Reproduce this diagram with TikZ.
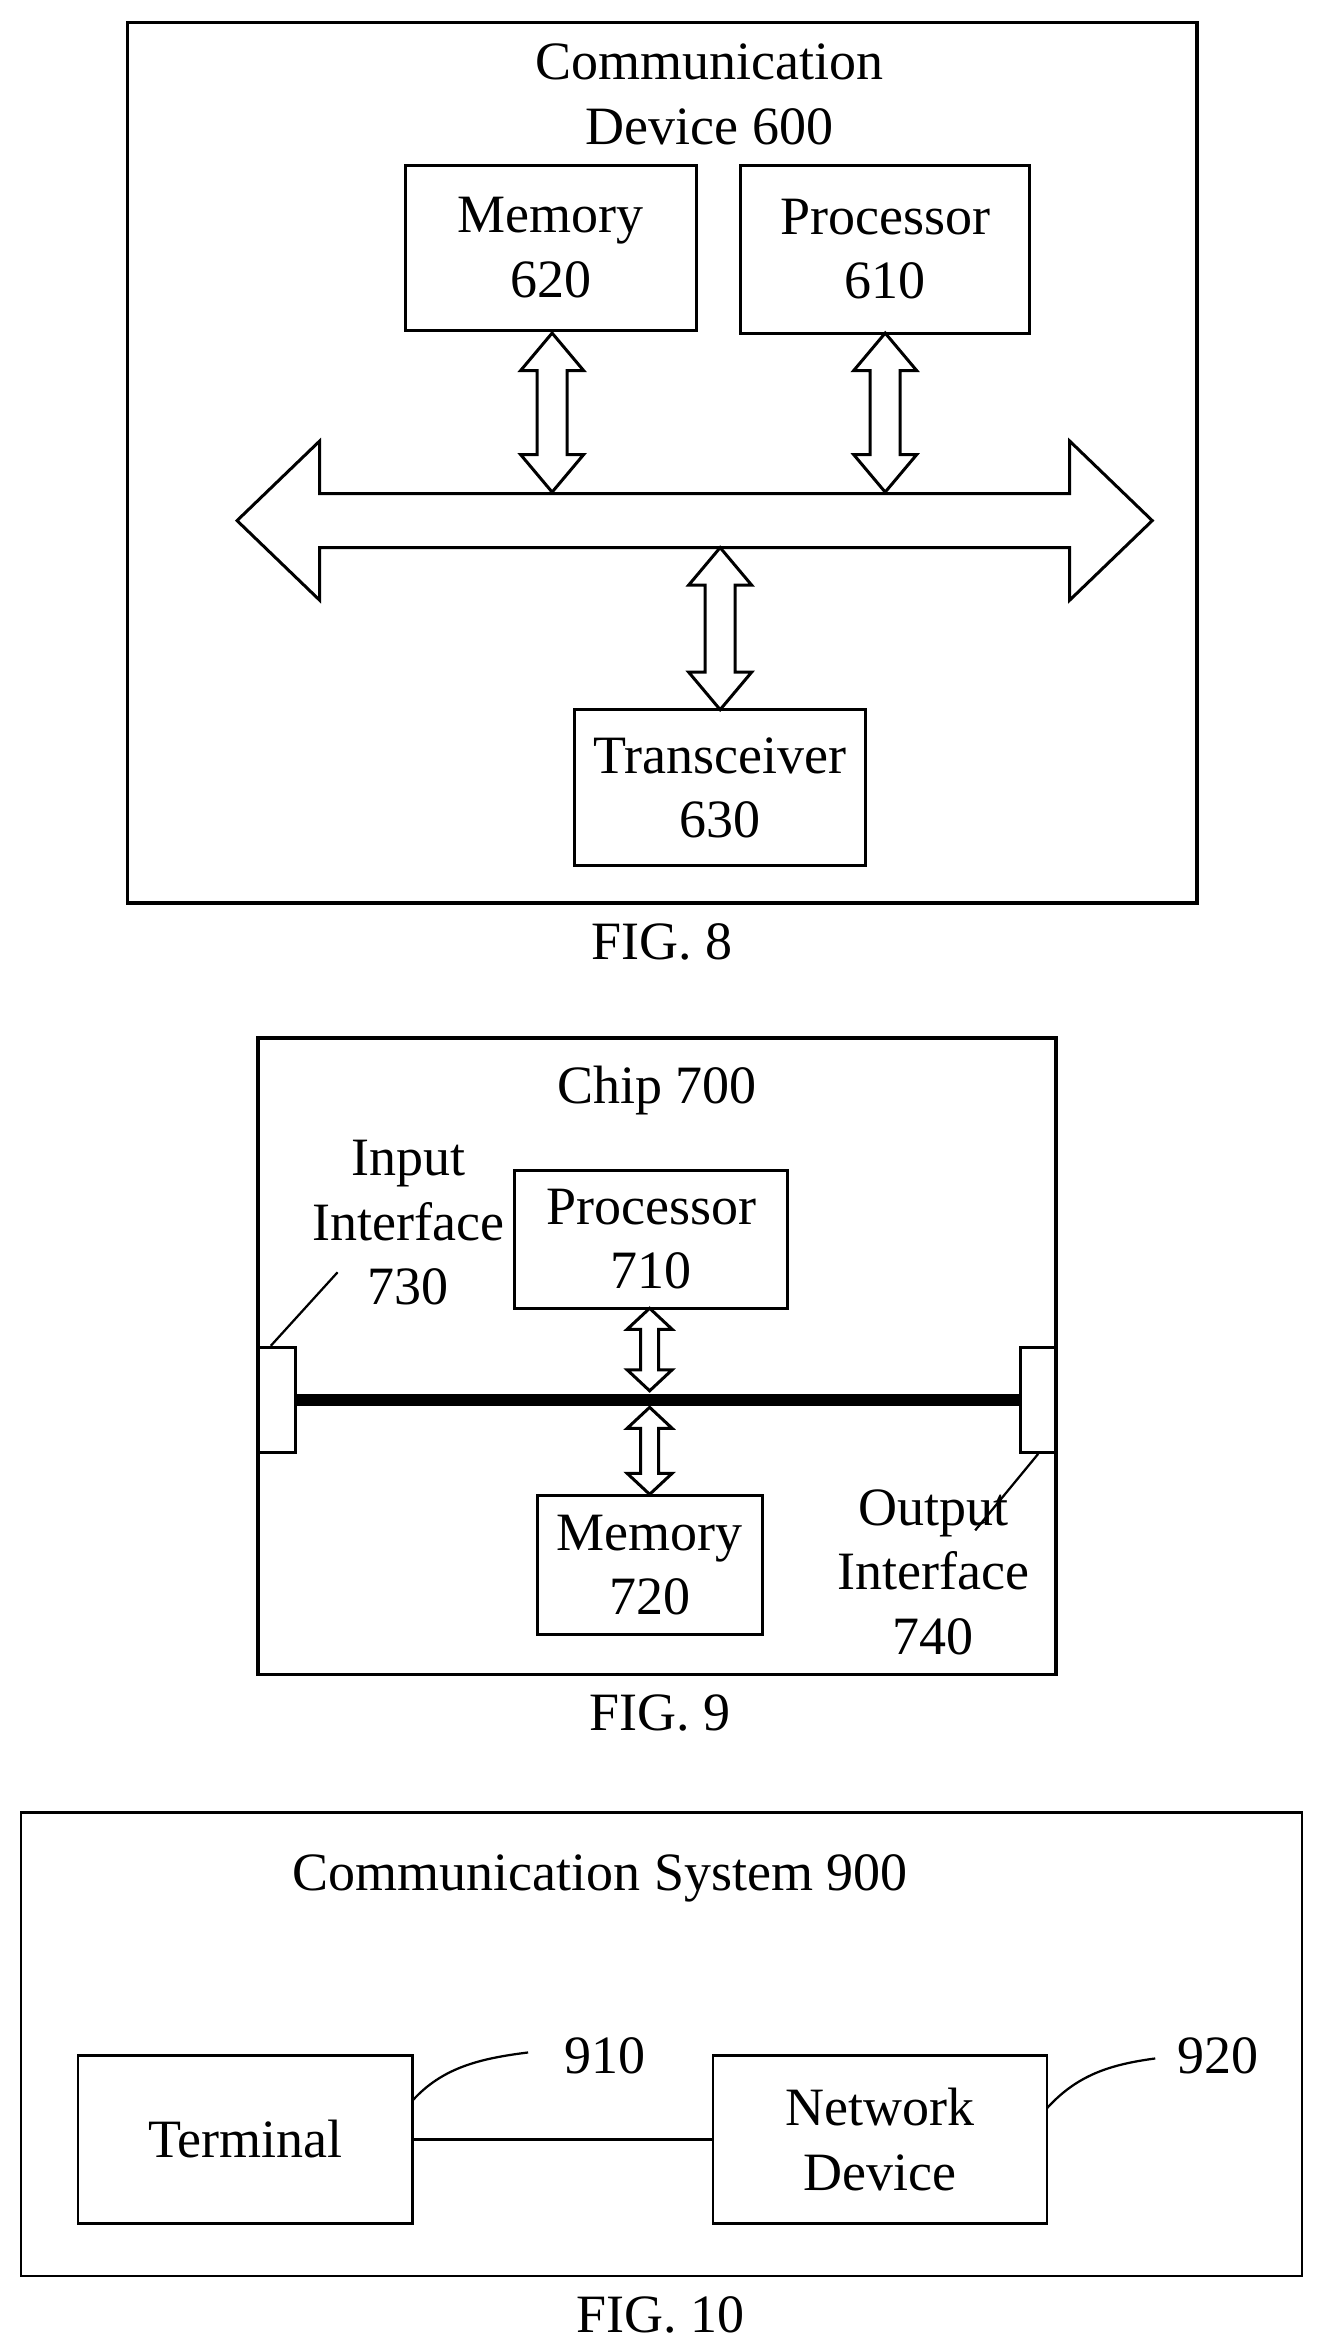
\documentclass[tikz,border=0pt]{standalone}
\usepackage{fontspec}
\setmainfont{Liberation Serif}
\usetikzlibrary{positioning}
% vertical fat double arrow: x, top y, bottom y
\newcommand{\vfat}[3]{%
  \draw[fatline] (#1,#2) -- (#1+21,#2+25) -- (#1+10,#2+25) -- (#1+10,#3-25) -- (#1+21,#3-25)
    -- (#1,#3) -- (#1-21,#3-25) -- (#1-10,#3-25) -- (#1-10,#2+25) -- (#1-21,#2+25) -- cycle;}
\newcommand{\vsmall}[3]{%
  \draw[fatline] (#1,#2) -- (#1+15,#2+14) -- (#1+6,#2+14) -- (#1+6,#3-14) -- (#1+15,#3-14)
    -- (#1,#3) -- (#1-15,#3-14) -- (#1-6,#3-14) -- (#1-6,#2+14) -- (#1-15,#2+14) -- cycle;}
\begin{document}
\begin{tikzpicture}[x=1pt,y=-1pt,
  every node/.style={font=\fontsize{36}{43}\selectfont, align=center},
  box/.style={draw, line width=2pt, inner sep=0pt},
  fatline/.style={draw, line width=2pt, line join=miter},
  leader/.style={line width=1.5pt}]
\useasboundingbox (0,0) rectangle (880,1563);
% FIG. 8
\draw[line width=2.5pt] (85,15) rectangle (798,602);
\node (dev) at (473,63) {Communication\\Device 600};
\node[box, minimum width=194, minimum height=110] (mem) at (367,165) {Memory\\620};
\node[box, minimum width=193, minimum height=112] (proc) at (590,166) {Processor\\610};
\node[box, minimum width=194, minimum height=104] (trx) at (480,525) {Transceiver\\630};
\draw[fatline] (158,347) -- (213,294) -- (213,329) -- (713,329) -- (713,294) -- (768,347)
  -- (713,400) -- (713,365) -- (213,365) -- (213,400) -- cycle;
\vfat{368}{222}{328}
\vfat{590}{222}{328}
\vfat{480}{365}{473}
\node (fig8) at (441,628) {FIG. 8};
% FIG. 9
\draw[line width=2.5pt] (172,692) rectangle (704,1116);
\node (chip) at (438,727) {Chip 700};
\node[box, minimum width=182, minimum height=92] (proc9) at (434,826) {Processor\\710};
\node[box, minimum width=150, minimum height=93] (mem9) at (433,1043) {Memory\\720};
\node[box, minimum width=25, minimum height=70] (in) at (184.5,933) {};
\node[box, minimum width=24, minimum height=70] (out) at (692,933) {};
\draw[line width=8pt] (in.east) -- (out.west);
\vsmall{433}{872}{927}
\vsmall{433}{938}{996}
\node (inlbl) at (272,815) {Input\\Interface\\730};
\node (outlbl) at (622,1048) {Output\\Interface\\740};
\draw[leader] (in.north) ++(-4,0) -- (225,848);
\draw[leader] (out.south) -- (650,1020);
\node (fig9) at (440,1142) {FIG. 9};
% FIG. 10
\draw[line width=1.5pt] (14,1208) rectangle (868,1517);
\node (sys) at (400,1252) {Communication System 900};
\node[box, line width=1.5pt, minimum width=223, minimum height=112] (term) at (163.5,1426) {Terminal};
\node[box, line width=1.5pt, minimum width=223, minimum height=112] (net) at (586.5,1426) {Network\\Device};
\draw[leader] (term) -- (net);
\node (n910) at (403,1370) {910};
\node (n920) at (812,1370) {920};
\draw[leader] (275,1400) .. controls (295,1378) and (320,1372) .. (352,1368);
\draw[leader] (698,1405) .. controls (718,1383) and (740,1376) .. (770,1372);
\node (fig10) at (440,1543) {FIG. 10};
\end{tikzpicture}
\end{document}
